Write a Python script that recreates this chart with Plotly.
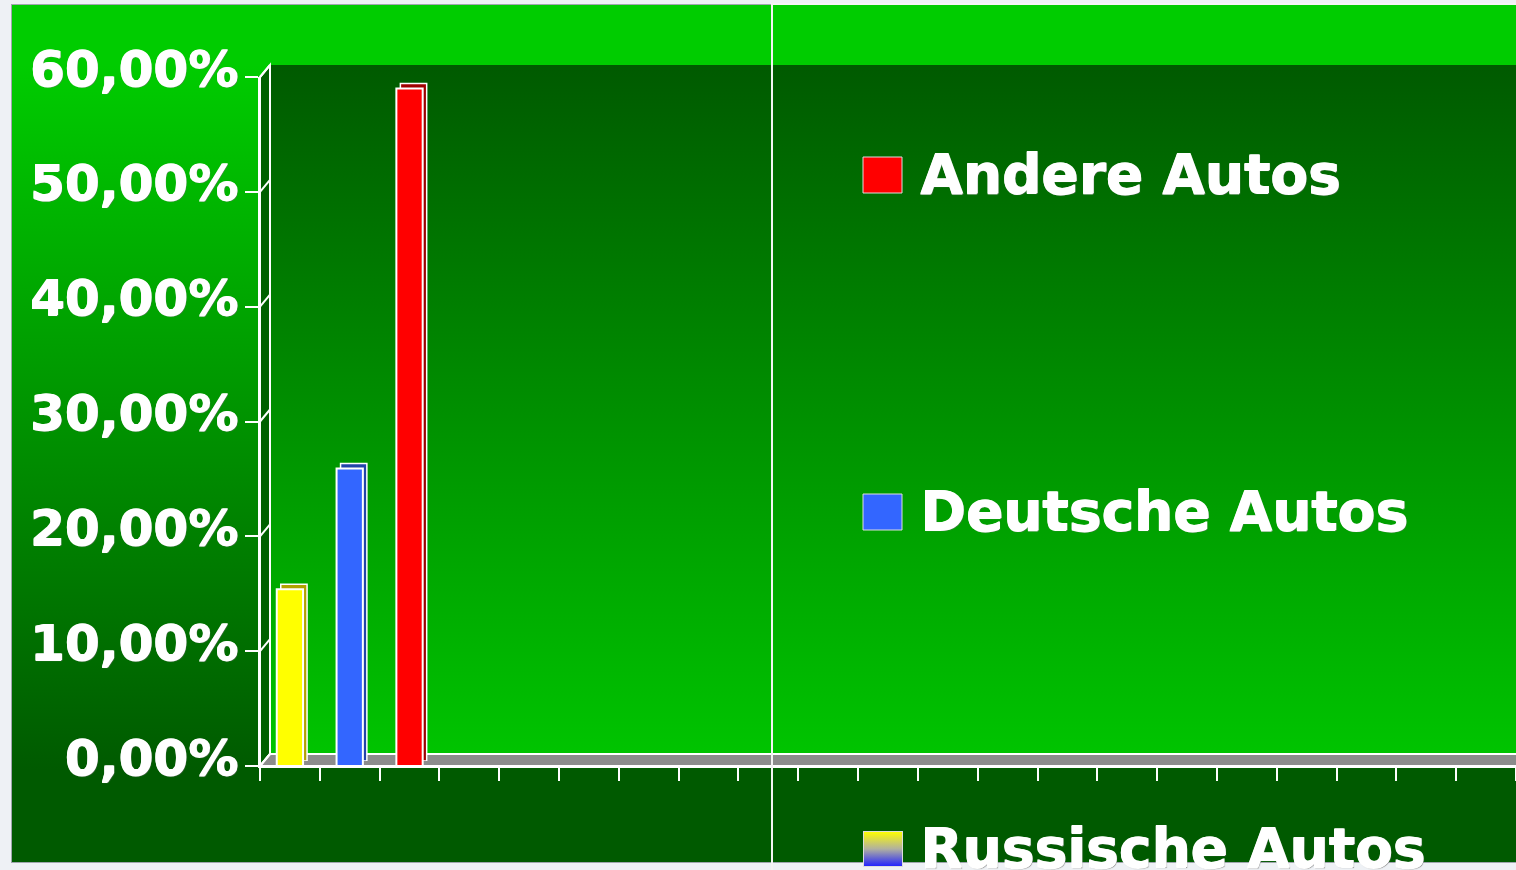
import base64
import numpy as np
import plotly.graph_objects as go

# ---------------- data ----------------
series = ["Russische Autos", "Deutsche Autos", "Andere Autos"]
values = [15.4, 25.9, 59.0]
bar_colors = ["#ffff00", "#3366ff", "#ff0000"]
side_colors = ["#b0a200", "#2244aa", "#a00000"]
ytick_vals = [0, 10, 20, 30, 40, 50, 60]
ytick_text = ["0,00%", "10,00%", "20,00%", "30,00%", "40,00%", "50,00%", "60,00%"]
n_slots = 21

# ---------------- geometry (pixels) ----------------
W, H = 1516, 870
FX0 = 260          # front value axis x
FY0, FY60 = 766, 77  # front y of 0 % and 60 %
DX, DY = 10, 12    # depth offset to back wall
SX, SY = 4, 5      # bar depth offset
LEG_X = 772        # legend box left edge
CH_L, CH_T, CH_B = 12, 5, 862
YMAX = 60
slot_px = (W - FX0) / n_slots


def px(x):
    return x / W


def py(y):
    return 1 - y / H


def yf(v):
    return FY0 - v * (FY0 - FY60) / YMAX


FONT = "DejaVu Sans, Arial Black, sans-serif"
SHADOW = "1px 0px 0px #ffffff, 0px 1px 0px #ffffff, 1px 1px 1px #7a7a7a"

# ---------------- background gradients (svg image) ----------------
wall_top, wall_bot = FY60 - DY, FY0 - DY
svg = f'''<svg xmlns="http://www.w3.org/2000/svg" width="{W}" height="{H}" viewBox="0 0 {W} {H}" preserveAspectRatio="none">
<defs>
<linearGradient id="outer" x1="0" y1="{CH_T}" x2="0" y2="{CH_B}" gradientUnits="userSpaceOnUse">
<stop offset="0" stop-color="#00cc00"/>
<stop offset="{(wall_top - CH_T) / (CH_B - CH_T):.4f}" stop-color="#00cc00"/>
<stop offset="{(FY0 + 4 - CH_T) / (CH_B - CH_T):.4f}" stop-color="#005a00"/>
<stop offset="1" stop-color="#005a00"/>
</linearGradient>
<linearGradient id="wall" x1="0" y1="{wall_top}" x2="0" y2="{wall_bot}" gradientUnits="userSpaceOnUse">
<stop offset="0" stop-color="#005a00"/>
<stop offset="1" stop-color="#00c400"/>
</linearGradient>
</defs>
<rect x="0" y="0" width="{W}" height="{H}" fill="#eef1f5"/>
<rect x="{CH_L - 0.5}" y="{CH_T - 0.5}" width="{W - CH_L + 2}" height="{CH_B - CH_T + 1}" fill="url(#outer)" stroke="#a0a6ae" stroke-width="1"/>
<rect x="{FX0 + DX}" y="{wall_top}" width="{W - FX0 - DX}" height="{wall_bot - wall_top}" fill="url(#wall)"/>
</svg>'''
bg_uri = "data:image/svg+xml;base64," + base64.b64encode(svg.encode()).decode()

swatch_svg = '''<svg xmlns="http://www.w3.org/2000/svg" width="40" height="36" viewBox="0 0 40 36" preserveAspectRatio="none">
<defs><linearGradient id="g" x1="0" y1="0" x2="0" y2="1">
<stop offset="0" stop-color="#ffff00"/><stop offset="0.5" stop-color="#b0b0a0"/><stop offset="1" stop-color="#2020ff"/>
</linearGradient></defs>
<rect x="0.5" y="0.5" width="39" height="35" fill="url(#g)" stroke="#dddddd" stroke-width="1"/>
</svg>'''
swatch_uri = "data:image/svg+xml;base64," + base64.b64encode(swatch_svg.encode()).decode()

fig = go.Figure()

# shadow (side/top faces) bars
for i, (name, v) in enumerate(zip(series, values)):
    fig.add_trace(go.Bar(
        x=[i], y=[v], width=0.44, name=name, showlegend=False,
        marker=dict(color=side_colors[i], line=dict(color="#ffffff", width=1.5)),
        xaxis="x2", yaxis="y2", hoverinfo="skip"))

# front faces
for i, (name, v) in enumerate(zip(series, values)):
    fig.add_trace(go.Bar(
        x=[i], y=[v], width=0.44, name=name, showlegend=False,
        marker=dict(color=bar_colors[i], line=dict(color="#ffffff", width=2)),
        xaxis="x3", yaxis="y3"))

shapes = []
# side wall
shapes.append(dict(
    type="path", xref="paper", yref="paper", layer="below",
    path=(f"M {px(FX0)} {py(yf(0))} L {px(FX0 + DX)} {py(yf(0) - DY)} "
          f"L {px(FX0 + DX)} {py(yf(YMAX) - DY)} L {px(FX0)} {py(yf(YMAX))} Z"),
    fillcolor="#006000", line=dict(color="#ffffff", width=2)))
# floor
shapes.append(dict(
    type="path", xref="paper", yref="paper", layer="below",
    path=(f"M {px(FX0)} {py(yf(0))} L {px(W + 20)} {py(yf(0))} "
          f"L {px(W + 20)} {py(yf(0) - DY)} L {px(FX0 + DX)} {py(yf(0) - DY)} Z"),
    fillcolor="#8c8c8c", line=dict(color="#ffffff", width=2)))
# connectors on side wall at each tick
for v in ytick_vals:
    shapes.append(dict(
        type="line", xref="paper", yref="paper", layer="below",
        x0=px(FX0), y0=py(yf(v)), x1=px(FX0 + DX), y1=py(yf(v) - DY),
        line=dict(color="#ffffff", width=2)))
# legend box border
shapes.append(dict(
    type="rect", xref="paper", yref="paper", layer="above",
    x0=px(LEG_X), y0=py(H + 20), x1=px(W + 20), y1=py(CH_T - 1),
    line=dict(color="#f4f4f4", width=2), fillcolor="rgba(0,0,0,0)"))

images = [dict(source=bg_uri, xref="paper", yref="paper", x=0, y=1,
               sizex=1, sizey=1, xanchor="left", yanchor="top",
               sizing="stretch", layer="below")]

annotations = []
LEG_STEP = 337
LEG_Y0 = 175
for j, i in enumerate(reversed(range(len(series)))):
    cy = LEG_Y0 + j * LEG_STEP
    if bar_colors[i] == "#ffff00":
        images.append(dict(source=swatch_uri, xref="paper", yref="paper",
                           x=px(863), y=py(cy - 18), sizex=px(40), sizey=36 / H,
                           xanchor="left", yanchor="top", sizing="stretch", layer="above"))
    else:
        shapes.append(dict(
            type="rect", xref="paper", yref="paper", layer="above",
            x0=px(863), x1=px(902), y0=py(cy + 18), y1=py(cy - 18),
            fillcolor=bar_colors[i], line=dict(color="#dddddd", width=1)))
    annotations.append(dict(
        text=series[i], xref="paper", yref="paper", x=px(918), y=py(cy - 1),
        xanchor="left", yanchor="middle", showarrow=False,
        font=dict(family=FONT, size=55, color="#ffffff", weight="bold", shadow=SHADOW)))

fig.update_layout(
    width=W, height=H, autosize=False,
    margin=dict(l=0, r=0, t=0, b=0, pad=0, autoexpand=False),
    paper_bgcolor="#eef1f5", plot_bgcolor="rgba(0,0,0,0)",
    barmode="overlay", showlegend=False,
    images=images, shapes=shapes, annotations=annotations,
    xaxis=dict(domain=[px(FX0 + DX), px(LEG_X)], range=[0, 1], showgrid=False,
               zeroline=False, showline=False, showticklabels=False, ticks="",
               anchor="y", fixedrange=True, automargin=False),
    yaxis=dict(domain=[py(FY0 - DY), py(FY60 - DY)], range=[0, YMAX], tickvals=ytick_vals,
               showgrid=True, gridcolor="#ffffff", gridwidth=2, zeroline=False,
               showline=False, showticklabels=False, ticks="", anchor="x",
               fixedrange=True, automargin=False),
    xaxis2=dict(domain=[px(FX0 + SX), 1], range=[-0.5, n_slots - 0.5 - SX / slot_px],
                visible=False, anchor="y2", fixedrange=True, automargin=False),
    yaxis2=dict(domain=[py(FY0 - SY), py(FY60 - SY)], range=[0, YMAX],
                visible=False, anchor="x2", fixedrange=True, automargin=False),
    xaxis3=dict(domain=[px(FX0), 1], range=[-0.5, n_slots - 0.5],
                tickvals=list(np.arange(-0.5, n_slots, 1.0)), ticks="outside",
                ticklen=13, tickwidth=2, tickcolor="#ffffff",
                showline=True, linecolor="#ffffff", linewidth=2,
                showticklabels=False, showgrid=False, zeroline=False,
                anchor="y3", fixedrange=True, automargin=False),
    yaxis3=dict(domain=[py(FY0), py(FY60)], range=[0, YMAX],
                tickvals=ytick_vals, ticktext=ytick_text, ticks="outside",
                ticklen=13, tickwidth=2, tickcolor="#ffffff",
                showline=True, linecolor="#ffffff", linewidth=2,
                showgrid=False, zeroline=False, anchor="x3",
                ticklabelstandoff=-3, ticklabelshift=-9,
                tickfont=dict(family=FONT, size=50, color="#ffffff", weight="bold", shadow=SHADOW),
                fixedrange=True, automargin=False),
)

fig.write_html(
    "out.html",
    config={"displayModeBar": False},
    post_script="document.body.style.margin='0';document.body.style.background='#eef1f5';"
)
